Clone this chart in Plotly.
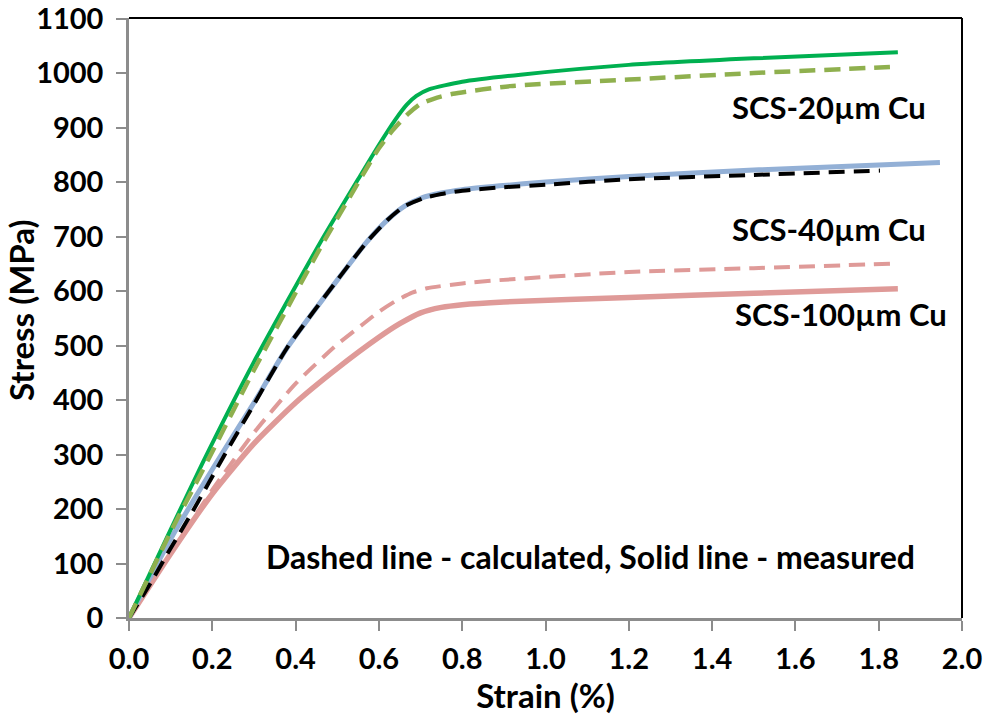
import plotly.graph_objects as go

# --- data ---
g20_meas_x = [0, 0.1, 0.175, 0.3, 0.46, 0.55, 0.6, 0.64, 0.667, 0.69, 0.72, 0.8, 0.94, 1.2, 1.5, 1.846]
g20_meas_y = [0, 162, 282, 470, 690, 805, 868, 915, 942, 958, 970, 984, 997, 1015, 1027, 1038]

g20_calc_x = [0, 0.1, 0.2, 0.3, 0.46, 0.555, 0.6, 0.634, 0.67, 0.699, 0.74, 0.778, 0.915, 1.2, 1.5, 1.827]
g20_calc_y = [0, 158, 305, 455, 680, 805, 862, 896, 925, 943, 955, 962, 976, 988, 1000, 1011]

g40_meas_x = [0, 0.1, 0.222, 0.3, 0.379, 0.5, 0.571, 0.62, 0.66, 0.706, 0.75, 0.8, 0.89, 1.0, 1.2, 1.5, 1.947]
g40_meas_y = [0, 145, 300, 395, 495, 620, 690, 730, 755, 772, 780, 786, 793, 800, 810, 822, 836]

g40_calc_x = [0, 0.05, 0.1, 0.15, 0.23, 0.3, 0.379, 0.5, 0.571, 0.62, 0.66, 0.706, 0.75, 0.8, 0.89, 1.0, 1.2, 1.5, 1.803]
g40_calc_y = [0, 62, 128, 192, 300, 392, 495, 620, 690, 730, 755, 770, 778, 784, 790, 795, 805, 813, 821]

g100_meas_x = [0, 0.1, 0.2, 0.3, 0.4, 0.5, 0.6, 0.65, 0.7, 0.75, 0.8, 0.9, 1.2, 1.5, 1.846]
g100_meas_y = [0, 118, 228, 320, 395, 458, 515, 540, 560, 570, 575, 580, 588, 596, 604]

g100_calc_x = [0, 0.1, 0.2, 0.3, 0.4, 0.5, 0.563, 0.6, 0.643, 0.68, 0.715, 0.8, 0.89, 1.2, 1.5, 1.827]
g100_calc_y = [0, 120, 235, 340, 430, 502, 540, 562, 583, 597, 605, 614, 620, 635, 642, 650]

x_ticks = [0.0, 0.2, 0.4, 0.6, 0.8, 1.0, 1.2, 1.4, 1.6, 1.8, 2.0]
y_ticks = [0, 100, 200, 300, 400, 500, 600, 700, 800, 900, 1000, 1100]

labels = ["SCS-20µm Cu", "SCS-40µm Cu", "SCS-100µm Cu"]
note = "Dashed line - calculated, Solid line - measured"
x_title = "Strain (%)"
y_title = "Stress (MPa)"

FONT = "Lato"
PINK = "#DF9A98"
GREEN = "#00B050"
OLIVE = "#8FB04E"
BLUE = "#93B0D6"
DASH = "16px,9px"
SM = 0.6

fig = go.Figure()
fig.add_trace(go.Scatter(x=g100_meas_x, y=g100_meas_y, mode="lines",
                         line=dict(color=PINK, width=5.5, shape="spline", smoothing=SM)))
fig.add_trace(go.Scatter(x=g100_calc_x, y=g100_calc_y, mode="lines",
                         line=dict(color=PINK, width=4, dash=DASH, shape="spline", smoothing=SM)))
fig.add_trace(go.Scatter(x=g40_meas_x, y=g40_meas_y, mode="lines",
                         line=dict(color=BLUE, width=5, shape="spline", smoothing=SM)))
fig.add_trace(go.Scatter(x=g40_calc_x, y=g40_calc_y, mode="lines",
                         line=dict(color="black", width=4, dash=DASH, shape="spline", smoothing=SM)))
fig.add_trace(go.Scatter(x=g20_meas_x, y=g20_meas_y, mode="lines",
                         line=dict(color=GREEN, width=4, shape="spline", smoothing=SM)))
fig.add_trace(go.Scatter(x=g20_calc_x, y=g20_calc_y, mode="lines",
                         line=dict(color=OLIVE, width=4.5, dash=DASH, shape="spline", smoothing=SM)))

tickfont = dict(family=FONT, size=29, color="black", weight="bold")
titlefont = dict(family=FONT, size=33, color="black", weight="bold")

fig.update_layout(
    width=990, height=721,
    margin=dict(l=129, r=28, t=18, b=103),
    paper_bgcolor="white", plot_bgcolor="white",
    showlegend=False,
    xaxis=dict(range=[0, 2.0], tickvals=x_ticks, ticktext=[f"{v:.1f}" for v in x_ticks],
               showgrid=False, zeroline=False, showline=True, linecolor="#8C8C8C", linewidth=2.5,
               ticks="outside", ticklen=10, tickwidth=2, tickcolor="#8C8C8C",
               tickfont=tickfont, ticklabelstandoff=3, automargin=False,
               ticklabeloverflow="allow",
               title=dict(text=x_title, font=titlefont, standoff=2)),
    yaxis=dict(range=[0, 1101], tickvals=y_ticks, ticktext=[str(v) for v in y_ticks],
               showgrid=False, zeroline=False, showline=True, linecolor="#8C8C8C", linewidth=2.5,
               ticks="outside", ticklen=10, tickwidth=2, tickcolor="#8C8C8C",
               tickfont=tickfont, ticklabelstandoff=7, automargin=False,
               ticklabeloverflow="allow"),
    shapes=[
        dict(type="line", xref="paper", yref="paper", x0=0, x1=1, y0=1, y1=1,
             line=dict(color="black", width=2)),
        dict(type="line", xref="paper", yref="paper", x0=1, x1=1, y0=0, y1=1,
             line=dict(color="black", width=2)),
    ],
)

# y-axis title placed as rotated annotation
fig.add_annotation(xref="paper", yref="paper", x=0, y=0.5, xshift=-108, yshift=8,
                   text=y_title, textangle=-90, showarrow=False,
                   xanchor="center", yanchor="middle", font=titlefont)

annfont = dict(family=FONT, size=31, color="black", weight="bold")
fig.add_annotation(x=1.68, y=938, text=labels[0], showarrow=False, font=annfont)
fig.add_annotation(x=1.68, y=713, text=labels[1], showarrow=False, font=annfont)
fig.add_annotation(x=1.71, y=558, text=labels[2], showarrow=False, font=annfont)
fig.add_annotation(x=1.107, y=113, text=note, showarrow=False,
                   font=dict(family=FONT, size=32, color="black", weight="bold"))

fig.write_html("out.html", config={"displayModeBar": False},
               post_script="document.body.style.margin='0px';document.body.style.padding='0px';")
